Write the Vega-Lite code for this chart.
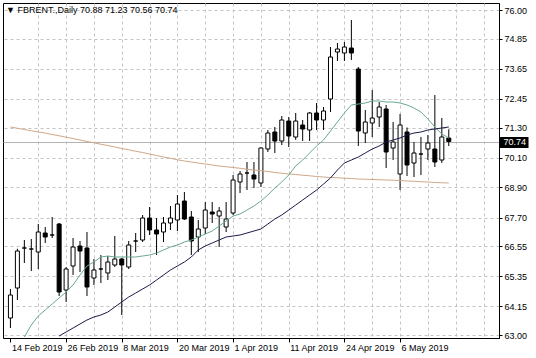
{
  "$schema": "https://vega.github.io/schema/vega-lite/v6.json",
  "width": 496,
  "height": 335,
  "autosize": {"type": "none"},
  "padding": {"left": 3, "top": 3, "right": 37, "bottom": 20},
  "background": "white",
  "title": {"text": "▼ FBRENT.,Daily  70.88 71.23 70.56 70.74", "anchor": "start", "frame": "group", "orient": "top", "offset": -12, "dx": 3, "font": "Liberation Sans", "fontSize": 9, "fontWeight": "normal", "color": "black"},
  "config": {
    "view": {"stroke": "black", "strokeWidth": 1},
    "axis": {"labelFont": "Liberation Sans", "labelFontSize": 9, "labelColor": "black", "domainColor": "black", "tickColor": "black", "gridColor": "#c4c4c4", "gridDash": [3, 3], "gridWidth": 1, "title": null, "labelOverlap": false},
    "axisY": {"labelOverlap": false}
  },
  "data": {"values": [
    {"i":0,"date":"2019-02-14","o":63.68,"h":64.84,"l":63.28,"c":64.6,"ma_long":71.32},
    {"i":1,"date":"2019-02-15","o":64.88,"h":66.45,"l":64.4,"c":66.36,"ma_long":71.27},
    {"i":2,"date":"2019-02-18","o":66.48,"h":66.8,"l":65.88,"c":66.48,"ma_fast":62.92,"ma_long":71.22},
    {"i":3,"date":"2019-02-19","o":66.44,"h":66.84,"l":65.56,"c":66.44,"ma_fast":63.4,"ma_long":71.17},
    {"i":4,"date":"2019-02-20","o":66.32,"h":67.44,"l":65.64,"c":67.12,"ma_fast":63.76,"ma_long":71.12},
    {"i":5,"date":"2019-02-21","o":67.08,"h":67.32,"l":66.68,"c":66.92,"ma_fast":64.0,"ma_long":71.08},
    {"i":6,"date":"2019-02-22","o":67.0,"h":67.72,"l":66.88,"c":67.0,"ma_fast":64.24,"ma_long":71.02},
    {"i":7,"date":"2019-02-25","o":67.44,"h":67.48,"l":64.56,"c":64.72,"ma_fast":64.48,"ma_slow":62.96,"ma_long":70.97},
    {"i":8,"date":"2019-02-26","o":64.8,"h":65.72,"l":64.32,"c":65.64,"ma_fast":64.72,"ma_slow":63.12,"ma_long":70.91},
    {"i":9,"date":"2019-02-27","o":65.76,"h":66.88,"l":65.4,"c":66.52,"ma_fast":65.0,"ma_slow":63.28,"ma_long":70.86},
    {"i":10,"date":"2019-02-28","o":66.56,"h":66.76,"l":65.52,"c":66.36,"ma_fast":65.4,"ma_slow":63.44,"ma_long":70.8},
    {"i":11,"date":"2019-03-01","o":66.48,"h":67.12,"l":64.56,"c":64.92,"ma_fast":65.76,"ma_slow":63.6,"ma_long":70.74},
    {"i":12,"date":"2019-03-04","o":65.28,"h":66.04,"l":65.0,"c":65.6,"ma_fast":65.92,"ma_slow":63.72,"ma_long":70.69},
    {"i":13,"date":"2019-03-05","o":65.64,"h":66.2,"l":65.08,"c":65.64,"ma_fast":66.12,"ma_slow":63.8,"ma_long":70.63},
    {"i":14,"date":"2019-03-06","o":65.48,"h":66.16,"l":65.2,"c":65.92,"ma_fast":66.16,"ma_slow":63.92,"ma_long":70.58},
    {"i":15,"date":"2019-03-07","o":65.8,"h":66.96,"l":65.72,"c":66.04,"ma_fast":66.12,"ma_slow":64.12,"ma_long":70.52},
    {"i":16,"date":"2019-03-08","o":66.04,"h":66.08,"l":63.8,"c":65.8,"ma_fast":66.12,"ma_slow":64.32,"ma_long":70.46},
    {"i":17,"date":"2019-03-11","o":65.72,"h":66.76,"l":65.64,"c":66.6,"ma_fast":66.12,"ma_slow":64.52,"ma_long":70.41},
    {"i":18,"date":"2019-03-12","o":66.76,"h":67.08,"l":66.32,"c":66.76,"ma_fast":66.12,"ma_slow":64.68,"ma_long":70.35},
    {"i":19,"date":"2019-03-13","o":66.8,"h":67.8,"l":66.72,"c":67.68,"ma_fast":66.16,"ma_slow":64.84,"ma_long":70.3},
    {"i":20,"date":"2019-03-14","o":67.68,"h":68.12,"l":67.0,"c":67.2,"ma_fast":66.2,"ma_slow":65.0,"ma_long":70.24},
    {"i":21,"date":"2019-03-15","o":67.2,"h":67.68,"l":66.2,"c":67.04,"ma_fast":66.28,"ma_slow":65.2,"ma_long":70.18},
    {"i":22,"date":"2019-03-18","o":67.12,"h":67.72,"l":66.72,"c":67.48,"ma_fast":66.4,"ma_slow":65.4,"ma_long":70.12},
    {"i":23,"date":"2019-03-19","o":67.48,"h":68.16,"l":67.2,"c":67.68,"ma_fast":66.52,"ma_slow":65.6,"ma_long":70.07},
    {"i":24,"date":"2019-03-20","o":67.6,"h":68.6,"l":67.16,"c":68.24,"ma_fast":66.6,"ma_slow":65.76,"ma_long":70.01},
    {"i":25,"date":"2019-03-21","o":68.36,"h":68.72,"l":67.6,"c":67.64,"ma_fast":66.72,"ma_slow":65.92,"ma_long":69.96},
    {"i":26,"date":"2019-03-22","o":67.72,"h":67.96,"l":66.2,"c":66.76,"ma_fast":66.8,"ma_slow":66.12,"ma_long":69.92},
    {"i":27,"date":"2019-03-25","o":66.92,"h":67.6,"l":66.32,"c":67.24,"ma_fast":66.92,"ma_slow":66.4,"ma_long":69.88},
    {"i":28,"date":"2019-03-26","o":67.28,"h":68.32,"l":67.04,"c":68.0,"ma_fast":67.04,"ma_slow":66.56,"ma_long":69.84},
    {"i":29,"date":"2019-03-27","o":67.92,"h":68.32,"l":67.48,"c":67.84,"ma_fast":67.16,"ma_slow":66.68,"ma_long":69.8},
    {"i":30,"date":"2019-03-28","o":67.76,"h":68.12,"l":66.52,"c":67.96,"ma_fast":67.36,"ma_slow":66.8,"ma_long":69.76},
    {"i":31,"date":"2019-03-29","o":67.32,"h":68.32,"l":67.12,"c":67.64,"ma_fast":67.56,"ma_slow":66.92,"ma_long":69.73},
    {"i":32,"date":"2019-04-01","o":67.88,"h":69.4,"l":67.8,"c":69.2,"ma_fast":67.76,"ma_slow":66.96,"ma_long":69.7},
    {"i":33,"date":"2019-04-02","o":69.12,"h":69.56,"l":68.68,"c":69.44,"ma_fast":67.84,"ma_slow":67.0,"ma_long":69.67},
    {"i":34,"date":"2019-04-03","o":69.48,"h":69.92,"l":68.8,"c":69.48,"ma_fast":68.0,"ma_slow":67.08,"ma_long":69.63},
    {"i":35,"date":"2019-04-04","o":69.4,"h":69.92,"l":68.88,"c":69.24,"ma_fast":68.16,"ma_slow":67.16,"ma_long":69.6},
    {"i":36,"date":"2019-04-05","o":69.08,"h":70.5,"l":68.92,"c":70.48,"ma_fast":68.36,"ma_slow":67.24,"ma_long":69.57},
    {"i":37,"date":"2019-04-08","o":70.44,"h":71.2,"l":70.32,"c":71.08,"ma_fast":68.6,"ma_slow":67.44,"ma_long":69.54},
    {"i":38,"date":"2019-04-09","o":71.12,"h":71.32,"l":70.28,"c":70.76,"ma_fast":68.88,"ma_slow":67.64,"ma_long":69.5},
    {"i":39,"date":"2019-04-10","o":70.76,"h":71.76,"l":70.6,"c":71.6,"ma_fast":69.12,"ma_slow":67.8,"ma_long":69.47},
    {"i":40,"date":"2019-04-11","o":71.56,"h":71.72,"l":70.52,"c":70.96,"ma_fast":69.4,"ma_slow":68.0,"ma_long":69.44},
    {"i":41,"date":"2019-04-12","o":70.92,"h":71.88,"l":70.8,"c":71.56,"ma_fast":69.76,"ma_slow":68.2,"ma_long":69.42},
    {"i":42,"date":"2019-04-15","o":71.4,"h":71.6,"l":70.76,"c":71.24,"ma_fast":70.0,"ma_slow":68.4,"ma_long":69.39},
    {"i":43,"date":"2019-04-16","o":71.2,"h":71.92,"l":70.76,"c":71.88,"ma_fast":70.28,"ma_slow":68.6,"ma_long":69.37},
    {"i":44,"date":"2019-04-17","o":71.88,"h":72.28,"l":71.2,"c":71.6,"ma_fast":70.56,"ma_slow":68.8,"ma_long":69.34},
    {"i":45,"date":"2019-04-18","o":71.6,"h":72.12,"l":71.2,"c":71.96,"ma_fast":70.8,"ma_slow":69.04,"ma_long":69.32},
    {"i":46,"date":"2019-04-22","o":72.44,"h":74.52,"l":71.92,"c":74.12,"ma_fast":71.16,"ma_slow":69.28,"ma_long":69.3},
    {"i":47,"date":"2019-04-23","o":74.32,"h":74.68,"l":73.96,"c":74.44,"ma_fast":71.52,"ma_slow":69.6,"ma_long":69.29},
    {"i":48,"date":"2019-04-24","o":74.28,"h":74.72,"l":73.96,"c":74.52,"ma_fast":71.88,"ma_slow":69.88,"ma_long":69.27},
    {"i":49,"date":"2019-04-25","o":74.48,"h":75.6,"l":74.0,"c":74.28,"ma_fast":72.2,"ma_slow":70.0,"ma_long":69.26},
    {"i":50,"date":"2019-04-26","o":73.64,"h":73.72,"l":70.56,"c":71.16,"ma_fast":72.24,"ma_slow":70.12,"ma_long":69.24},
    {"i":51,"date":"2019-04-29","o":71.08,"h":72.0,"l":70.68,"c":71.52,"ma_fast":72.28,"ma_slow":70.28,"ma_long":69.23},
    {"i":52,"date":"2019-04-30","o":71.48,"h":72.8,"l":70.92,"c":71.68,"ma_fast":72.36,"ma_slow":70.44,"ma_long":69.22},
    {"i":53,"date":"2019-05-01","o":71.72,"h":72.32,"l":71.32,"c":72.12,"ma_fast":72.36,"ma_slow":70.56,"ma_long":69.21},
    {"i":54,"date":"2019-05-02","o":72.04,"h":72.2,"l":69.68,"c":70.32,"ma_fast":72.32,"ma_slow":70.72,"ma_long":69.2},
    {"i":55,"date":"2019-05-03","o":70.48,"h":71.52,"l":70.0,"c":70.72,"ma_fast":72.32,"ma_slow":70.8,"ma_long":69.19},
    {"i":56,"date":"2019-05-06","o":69.44,"h":71.84,"l":68.8,"c":71.4,"ma_fast":72.28,"ma_slow":70.88,"ma_long":69.18},
    {"i":57,"date":"2019-05-07","o":71.12,"h":71.3,"l":69.36,"c":69.8,"ma_fast":72.2,"ma_slow":71.0,"ma_long":69.16},
    {"i":58,"date":"2019-05-08","o":69.88,"h":70.72,"l":69.32,"c":70.28,"ma_fast":72.08,"ma_slow":71.08,"ma_long":69.15},
    {"i":59,"date":"2019-05-09","o":70.24,"h":70.92,"l":69.4,"c":70.24,"ma_fast":71.92,"ma_slow":71.12,"ma_long":69.13},
    {"i":60,"date":"2019-05-10","o":70.44,"h":71.0,"l":70.0,"c":70.68,"ma_fast":71.64,"ma_slow":71.2,"ma_long":69.12},
    {"i":61,"date":"2019-05-13","o":70.44,"h":72.6,"l":69.72,"c":69.92,"ma_fast":71.32,"ma_slow":71.24,"ma_long":69.1},
    {"i":62,"date":"2019-05-14","o":70.0,"h":71.68,"l":69.88,"c":70.92,"ma_fast":71.04,"ma_slow":71.28,"ma_long":69.09},
    {"i":63,"date":"2019-05-15","o":70.88,"h":71.23,"l":70.56,"c":70.74,"ma_fast":70.88,"ma_slow":71.32,"ma_long":69.08}
  ]},
  "encoding": {
    "x": {
      "field": "i", "type": "quantitative",
      "scale": {"domain": [-0.35, 69.5], "nice": false, "zero": false},
      "axis": {
        "orient": "bottom",
        "values": [0, 4, 8, 12, 16, 20, 24, 28, 32, 36, 40, 44, 48, 52, 56, 60, 64, 68],
        "grid": true,
        "gridOpacity": {"condition": {"test": "datum.value === 0", "value": 0}, "value": 1},
        "tickSize": 4,
        "tickOpacity": {"condition": {"test": "datum.value % 8 === 0 && datum.value <= 56", "value": 1}, "value": 0},
        "labelAlign": "left",
        "labelOffset": 1,
        "labelPadding": 1,
        "labelOverlap": false,
        "labelFlush": false,
        "labelExpr": "(datum.value % 8 === 0 && datum.value <= 56) ? ['14 Feb 2019','26 Feb 2019','8 Mar 2019','20 Mar 2019','1 Apr 2019','11 Apr 2019','24 Apr 2019','6 May 2019'][datum.value / 8] : ''"
      }
    }
  },
  "layer": [
    {
      "mark": {"type": "rule", "color": "black", "strokeWidth": 1},
      "encoding": {
        "y": {
          "field": "l", "type": "quantitative",
          "scale": {"domain": [62.88, 76.28], "nice": false, "zero": false},
          "axis": {
            "orient": "right",
            "values": [63.0, 64.15, 65.35, 66.55, 67.7, 68.9, 70.1, 70.74, 71.3, 72.45, 73.65, 74.85, 76.0],
            "format": ".2f",
            "grid": true,
            "gridDash": {"condition": {"test": "datum.value === 70.74", "value": []}, "value": [3, 3]},
            "gridColor": {"condition": {"test": "datum.value === 70.74", "value": "#b4b4b4"}, "value": "#c4c4c4"},
            "tickSize": {"condition": {"test": "datum.value === 70.74", "value": 29}, "value": 3},
            "tickWidth": {"condition": {"test": "datum.value === 70.74", "value": 11}, "value": 1},
            "labelColor": {"condition": {"test": "datum.value === 70.74", "value": "white"}, "value": "black"},
            "labelPadding": {"condition": {"test": "datum.value === 70.74", "value": -25}, "value": 2},
            "labelOverlap": false,
            "labelFlush": false,
            "labelBaseline": "middle"
          }
        },
        "y2": {"field": "h"}
      }
    },
    {
      "mark": {"type": "bar", "size": 4, "stroke": "black", "strokeWidth": 1},
      "encoding": {
        "y": {"field": "o", "type": "quantitative", "axis": {
            "orient": "right",
            "values": [63.0, 64.15, 65.35, 66.55, 67.7, 68.9, 70.1, 70.74, 71.3, 72.45, 73.65, 74.85, 76.0],
            "format": ".2f",
            "grid": true,
            "gridDash": {"condition": {"test": "datum.value === 70.74", "value": []}, "value": [3, 3]},
            "gridColor": {"condition": {"test": "datum.value === 70.74", "value": "#b4b4b4"}, "value": "#c4c4c4"},
            "tickSize": {"condition": {"test": "datum.value === 70.74", "value": 29}, "value": 3},
            "tickWidth": {"condition": {"test": "datum.value === 70.74", "value": 11}, "value": 1},
            "labelColor": {"condition": {"test": "datum.value === 70.74", "value": "white"}, "value": "black"},
            "labelPadding": {"condition": {"test": "datum.value === 70.74", "value": -25}, "value": 2},
            "labelOverlap": false,
            "labelFlush": false,
            "labelBaseline": "middle"
          }},
        "y2": {"field": "c"},
        "fill": {"condition": {"test": "datum.c < datum.o", "value": "black"}, "value": "white"}
      }
    },
    {
      "mark": {"type": "line", "color": "#cfa888", "strokeWidth": 1},
      "encoding": {"y": {"field": "ma_long", "type": "quantitative", "axis": {
            "orient": "right",
            "values": [63.0, 64.15, 65.35, 66.55, 67.7, 68.9, 70.1, 70.74, 71.3, 72.45, 73.65, 74.85, 76.0],
            "format": ".2f",
            "grid": true,
            "gridDash": {"condition": {"test": "datum.value === 70.74", "value": []}, "value": [3, 3]},
            "gridColor": {"condition": {"test": "datum.value === 70.74", "value": "#b4b4b4"}, "value": "#c4c4c4"},
            "tickSize": {"condition": {"test": "datum.value === 70.74", "value": 29}, "value": 3},
            "tickWidth": {"condition": {"test": "datum.value === 70.74", "value": 11}, "value": 1},
            "labelColor": {"condition": {"test": "datum.value === 70.74", "value": "white"}, "value": "black"},
            "labelPadding": {"condition": {"test": "datum.value === 70.74", "value": -25}, "value": 2},
            "labelOverlap": false,
            "labelFlush": false,
            "labelBaseline": "middle"
          }}}
    },
    {
      "mark": {"type": "line", "color": "#6aa890", "strokeWidth": 1},
      "encoding": {"y": {"field": "ma_fast", "type": "quantitative", "axis": {
            "orient": "right",
            "values": [63.0, 64.15, 65.35, 66.55, 67.7, 68.9, 70.1, 70.74, 71.3, 72.45, 73.65, 74.85, 76.0],
            "format": ".2f",
            "grid": true,
            "gridDash": {"condition": {"test": "datum.value === 70.74", "value": []}, "value": [3, 3]},
            "gridColor": {"condition": {"test": "datum.value === 70.74", "value": "#b4b4b4"}, "value": "#c4c4c4"},
            "tickSize": {"condition": {"test": "datum.value === 70.74", "value": 29}, "value": 3},
            "tickWidth": {"condition": {"test": "datum.value === 70.74", "value": 11}, "value": 1},
            "labelColor": {"condition": {"test": "datum.value === 70.74", "value": "white"}, "value": "black"},
            "labelPadding": {"condition": {"test": "datum.value === 70.74", "value": -25}, "value": 2},
            "labelOverlap": false,
            "labelFlush": false,
            "labelBaseline": "middle"
          }}}
    },
    {
      "mark": {"type": "line", "color": "#1b1b4a", "strokeWidth": 1},
      "encoding": {"y": {"field": "ma_slow", "type": "quantitative", "axis": {
            "orient": "right",
            "values": [63.0, 64.15, 65.35, 66.55, 67.7, 68.9, 70.1, 70.74, 71.3, 72.45, 73.65, 74.85, 76.0],
            "format": ".2f",
            "grid": true,
            "gridDash": {"condition": {"test": "datum.value === 70.74", "value": []}, "value": [3, 3]},
            "gridColor": {"condition": {"test": "datum.value === 70.74", "value": "#b4b4b4"}, "value": "#c4c4c4"},
            "tickSize": {"condition": {"test": "datum.value === 70.74", "value": 29}, "value": 3},
            "tickWidth": {"condition": {"test": "datum.value === 70.74", "value": 11}, "value": 1},
            "labelColor": {"condition": {"test": "datum.value === 70.74", "value": "white"}, "value": "black"},
            "labelPadding": {"condition": {"test": "datum.value === 70.74", "value": -25}, "value": 2},
            "labelOverlap": false,
            "labelFlush": false,
            "labelBaseline": "middle"
          }}}
    }
  ]
}
